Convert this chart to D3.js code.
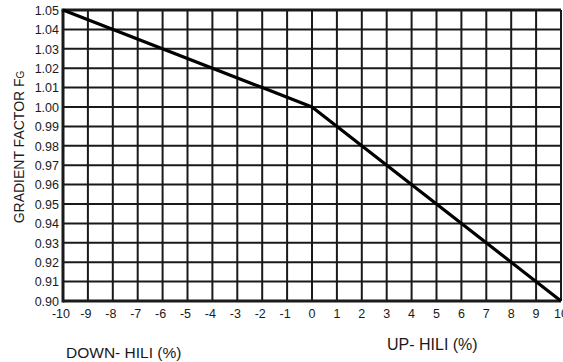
<!DOCTYPE html>
<html>
<head>
<meta charset="utf-8">
<script src="https://cdn.jsdelivr.net/npm/d3@7"></script>
<style>
  html, body { margin: 0; padding: 0; background: #fff; }
  svg { display: block; font-family: "Liberation Sans", Arial, sans-serif; }
</style>
</head>
<body>
<svg id="chart" width="563" height="362"></svg>
<script>
// Gradient factor vs. road grade
const gradePct   = [-10, -2, 0, 10];
const factorVals = [1.05, 1.01, 1.00, 0.90];

const xTicks = [-10, -9, -8, -7, -6, -5, -4, -3, -2, -1, 0, 1, 2, 3, 4, 5, 6, 7, 8, 9, 10];
const yTicks = [0.90, 0.91, 0.92, 0.93, 0.94, 0.95, 0.96, 0.97, 0.98, 0.99, 1.00, 1.01, 1.02, 1.03, 1.04, 1.05];

const svg = d3.select("#chart");
const ink = "#1a1a1a";

const x = d3.scaleLinear().domain([-10, 10]).range([63, 561]);
const y = d3.scaleLinear().domain([0.90, 1.05]).range([301, 10]);

// grid
const grid = svg.append("g").attr("stroke", ink).attr("stroke-width", 2);
grid.selectAll("line.v").data(xTicks.slice(1)).join("line")
  .attr("class", "v")
  .attr("x1", d => x(d)).attr("x2", d => x(d))
  .attr("y1", y(1.05)).attr("y2", y(0.90));
grid.selectAll("line.h").data(yTicks.slice(1)).join("line")
  .attr("class", "h")
  .attr("x1", x(-10)).attr("x2", x(10))
  .attr("y1", d => y(d)).attr("y2", d => y(d));

// frame: heavier top, left and bottom edges
const frame = svg.append("g").attr("stroke", ink).attr("stroke-width", 3).attr("fill", "none");
frame.append("line").attr("x1", x(-10) - 1.5).attr("x2", x(10)).attr("y1", y(1.05)).attr("y2", y(1.05));
frame.append("line").attr("x1", x(-10)).attr("x2", x(-10)).attr("y1", y(1.05)).attr("y2", y(0.90) + 1.5);
frame.append("line").attr("x1", x(-10)).attr("x2", x(10)).attr("y1", y(0.90)).attr("y2", y(0.90));

// curve
const pts = gradePct.map((g, i) => [g, factorVals[i]]);
svg.append("path")
  .datum(pts)
  .attr("fill", "none")
  .attr("stroke", "#000")
  .attr("stroke-width", 3.2)
  .attr("stroke-linejoin", "round")
  .attr("d", d3.line().x(d => x(d[0])).y(d => y(d[1])));

// tick labels
svg.append("g").selectAll("text").data(yTicks).join("text")
  .attr("x", 59)
  .attr("y", d => y(d))
  .attr("dy", "0.38em")
  .attr("text-anchor", "end")
  .attr("font-size", 12.5)
  .attr("fill", ink)
  .text(d => d3.format(".2f")(d));

svg.append("g").selectAll("text").data(xTicks).join("text")
  .attr("x", d => x(d) + (d < 0 ? -2 : 0))
  .attr("y", 318)
  .attr("text-anchor", "middle")
  .attr("font-size", 12.5)
  .attr("fill", ink)
  .text(d => String(d));

// axis titles
const yt = svg.append("text")
  .attr("transform", "translate(24,147) rotate(-90)")
  .attr("text-anchor", "middle")
  .attr("font-size", 14)
  .attr("fill", ink);
yt.append("tspan").text("GRADIENT FACTOR  F");
yt.append("tspan").attr("font-size", 10).text("G");

svg.append("text")
  .attr("x", 66).attr("y", 358)
  .attr("font-size", 15.5)
  .attr("fill", ink)
  .text("DOWN- HILI (%)");

svg.append("text")
  .attr("x", 387).attr("y", 350)
  .attr("font-size", 16)
  .attr("fill", ink)
  .text("UP- HILI (%)");
</script>
</body>
</html>
